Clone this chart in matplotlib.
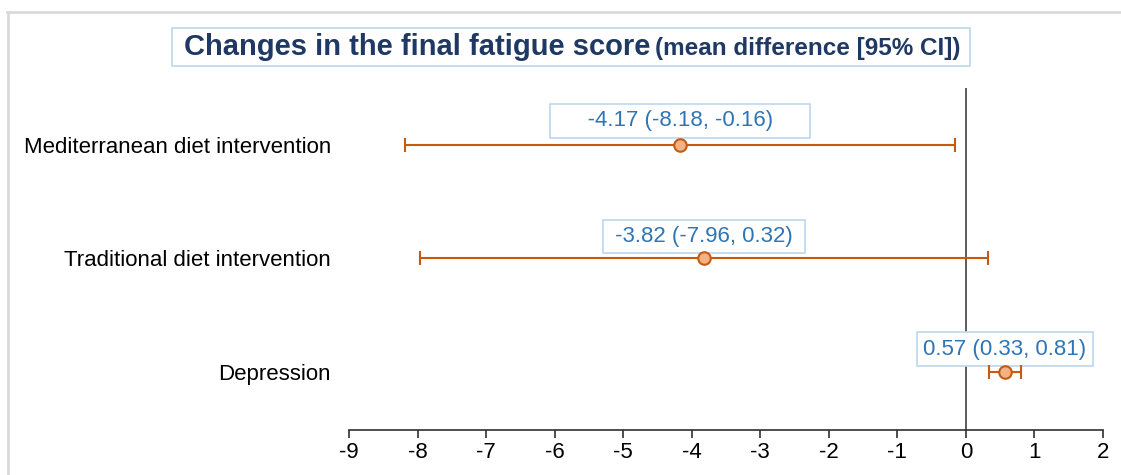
import matplotlib.pyplot as plt
from matplotlib.lines import Line2D

plt.rcParams['font.family'] = ['Liberation Sans', 'DejaVu Sans']

# data
labels = ["Mediterranean diet intervention", "Traditional diet intervention", "Depression"]
means = [-4.17, -3.82, 0.57]
lower = [-8.18, -7.96, 0.33]
upper = [-0.16, 0.32, 0.81]
xticks = list(range(-9, 3))

line_col = "#C55A11"
face_col = "#F4B183"
text_col = "#2E75B6"
box_col = "#BDD7EE"
title_col = "#1F3864"

# label box layout (pixels): text offset above point, extra side padding
lab_dy = [24, 22, 23]
lab_sp = [5, 1, 0]

fig = plt.figure(figsize=(11.21, 4.75), dpi=100)
ax = fig.add_axes([349/1121, 1 - 430/475, (1103 - 349)/1121, (430 - 88)/475])

ypos = [2, 1, 0]
for i, (y, m, lo, hi) in enumerate(zip(ypos, means, lower, upper)):
    ax.errorbar(m, y, xerr=[[m - lo], [hi - m]], fmt='o', color=line_col,
                ecolor=line_col, elinewidth=1.5, capsize=5, capthick=1.5,
                markersize=9, markerfacecolor=face_col, markeredgecolor=line_col,
                markeredgewidth=1.5, zorder=5)
    sp = " " * lab_sp[i]
    ax.annotate(f"{sp}{m:.2f} ({lo:.2f}, {hi:.2f}){sp}", (m, y),
                xytext=(0, lab_dy[i] * 0.72), textcoords='offset points',
                ha='center', va='center', fontsize=16, color=text_col, zorder=4,
                bbox=dict(boxstyle='square,pad=0.28', fc='white', ec=box_col, lw=1.2))

ax.axvline(0, color='#404040', lw=1.2, zorder=1)

ax.set_xlim(-9, 2)
ax.set_ylim(-0.51, 2.5)
ax.set_xticks(xticks)
ax.set_xticklabels([str(t) for t in xticks], fontsize=16)
ax.set_yticks(ypos)
ax.set_yticklabels(labels, fontsize=16)
ax.tick_params(axis='y', length=0, pad=13)
ax.tick_params(axis='x', direction='out', length=6, width=1.2, color='#303030', pad=3)
for s in ['top', 'left', 'right']:
    ax.spines[s].set_visible(False)
ax.spines['bottom'].set_linewidth(1.2)
ax.spines['bottom'].set_color('#303030')

# title with box
fig.text(184/1121, 1 - 47/475, "Changes in the final fatigue score", fontsize=21,
         fontweight='bold', color=title_col, ha='left', va='center')
fig.text(655/1121, 1 - 48/475, "(mean difference [95% CI])", fontsize=17.5,
         fontweight='bold', color=title_col, ha='left', va='center')
fig.add_artist(plt.Rectangle((172/1121, 1 - 66/475), (970 - 172)/1121, 38/475,
                             transform=fig.transFigure, fill=False, ec=box_col, lw=1.2))

# figure frame lines
fig.add_artist(Line2D([7/1121, 1], [1 - 11.5/475] * 2, color='#D9D9D9', lw=2))
fig.add_artist(Line2D([7.5/1121] * 2, [0, 1 - 11.5/475], color='#D9D9D9', lw=2))

fig.savefig("out.png", dpi=100)
